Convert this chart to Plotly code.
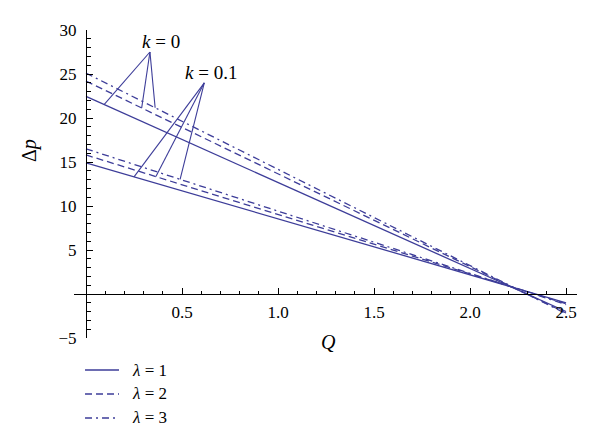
import numpy as np
import plotly.graph_objects as go

# ---- data ----
Q = [0.0, 2.5]
k0_lam1 = [22.45, -1.99]
k0_lam2 = [24.2, -2.16]
k0_lam3 = [25.1, -2.24]
k01_lam1 = [14.9, -1.0]
k01_lam2 = [15.8, -1.1]
k01_lam3 = [16.5, -1.2]

lam_names = ["<i>λ</i> = 1", "<i>λ</i> = 2", "<i>λ</i> = 3"]
x_tickvals = [0.5, 1.0, 1.5, 2.0, 2.5]
x_ticktext = ["0.5", "1.0", "1.5", "2.0", "2.5"]
y_tickvals = [-5, 5, 10, 15, 20, 25, 30]
y_ticktext = ["−5", "5", "10", "15", "20", "25", "30"]

COLOR = "#3d3d99"
FONT = "Liberation Serif"
dashes = ["solid", "7px,4px", "7px,4px,2px,4px"]

fig = go.Figure()
groups = [(k0_lam1, k01_lam1), (k0_lam2, k01_lam2), (k0_lam3, k01_lam3)]
for i, (a, b) in enumerate(groups):
    for j, ys in enumerate((a, b)):
        fig.add_trace(go.Scatter(
            x=Q, y=ys, mode="lines", name=lam_names[i],
            showlegend=False,
            line=dict(color=COLOR, width=1.3, dash=dashes[i]),
            cliponaxis=False,
        ))

# ---- callouts ----
def on_line(ys, q):
    return float(np.interp(q, Q, ys))

shapes = []
hub0 = (0.333, 27.5)
for ys, q in [(k0_lam1, 0.094), (k0_lam2, 0.29), (k0_lam3, 0.36)]:
    shapes.append(dict(type="line", xref="x", yref="y", x0=hub0[0], y0=hub0[1],
                       x1=q, y1=on_line(ys, q), line=dict(color=COLOR, width=1.1)))
hub1 = (0.616, 24.0)
for ys, q in [(k01_lam1, 0.25), (k01_lam2, 0.364), (k01_lam3, 0.49)]:
    shapes.append(dict(type="line", xref="x", yref="y", x0=hub1[0], y0=hub1[1],
                       x1=q, y1=on_line(ys, q), line=dict(color=COLOR, width=1.1)))

annotations = [
    dict(x=0.39, y=28.7, xref="x", yref="y", text="<i>k</i> = 0", showarrow=False,
         font=dict(family=FONT, size=19, color="black")),
    dict(x=0.65, y=25.2, xref="x", yref="y", text="<i>k</i> = 0.1", showarrow=False,
         font=dict(family=FONT, size=19, color="black")),
    dict(x=-0.0895, y=0.61, xref="paper", yref="paper", text="Δ<i>p</i>", textangle=-90,
         xanchor="center", yanchor="middle",
         showarrow=False, font=dict(family=FONT, size=20, color="black")),
    dict(x=0.505, y=-0.013, xref="paper", yref="paper", text="<i>Q</i>",
         xanchor="center", yanchor="middle",
         showarrow=False, font=dict(family=FONT, size=20, color="black")),
]

# ---- legend drawn as samples + labels (paper coordinates) ----
leg_y = [-0.1039, -0.1818, -0.2597]
for i in range(3):
    shapes.append(dict(type="line", xref="paper", yref="paper",
                       x0=0.0219, x1=0.0895, y0=leg_y[i], y1=leg_y[i],
                       line=dict(color=COLOR, width=1.3, dash=dashes[i])))
    annotations.append(dict(x=0.1113, y=leg_y[i], xref="paper", yref="paper",
                            text=lam_names[i], xanchor="left", yanchor="middle",
                            showarrow=False,
                            font=dict(family=FONT, size=17, color="black")))

xr = [-0.0625, 2.557]
yr = [-5, 30]

# page body has an 8px margin; figure sized so the page is exactly 600x447
fig.update_layout(
    width=584, height=431,
    margin=dict(l=66, r=15, t=22, b=101),
    paper_bgcolor="white", plot_bgcolor="white",
    font=dict(family=FONT, size=16, color="black"),
    shapes=shapes, annotations=annotations,
    showlegend=False,
    xaxis=dict(range=xr, anchor="free", position=5 / 35, showgrid=False, zeroline=False,
               showline=True, linecolor="black", linewidth=1,
               ticks="inside", ticklen=6, tickcolor="black", tickwidth=1,
               tickmode="array", tickvals=x_tickvals, ticktext=x_ticktext,
               ticklabelstandoff=3,
               minor=dict(tickmode="array",
                          tickvals=[round(v, 2) for v in np.arange(0.1, 2.51, 0.1)],
                          ticks="inside", ticklen=3.5, tickcolor="black", tickwidth=1),
               tickfont=dict(family=FONT, size=17)),
    yaxis=dict(range=yr, anchor="free", position=0.0625 / (xr[1] - xr[0]),
               showgrid=False, zeroline=False,
               showline=True, linecolor="black", linewidth=1,
               ticks="inside", ticklen=6, tickcolor="black", tickwidth=1,
               tickmode="array", tickvals=y_tickvals, ticktext=y_ticktext,
               ticklabelstandoff=6,
               minor=dict(tickmode="array", tickvals=list(range(-5, 31)),
                          ticks="inside", ticklen=3.5, tickcolor="black", tickwidth=1),
               tickfont=dict(family=FONT, size=17)),
)

fig.write_html("out.html")
